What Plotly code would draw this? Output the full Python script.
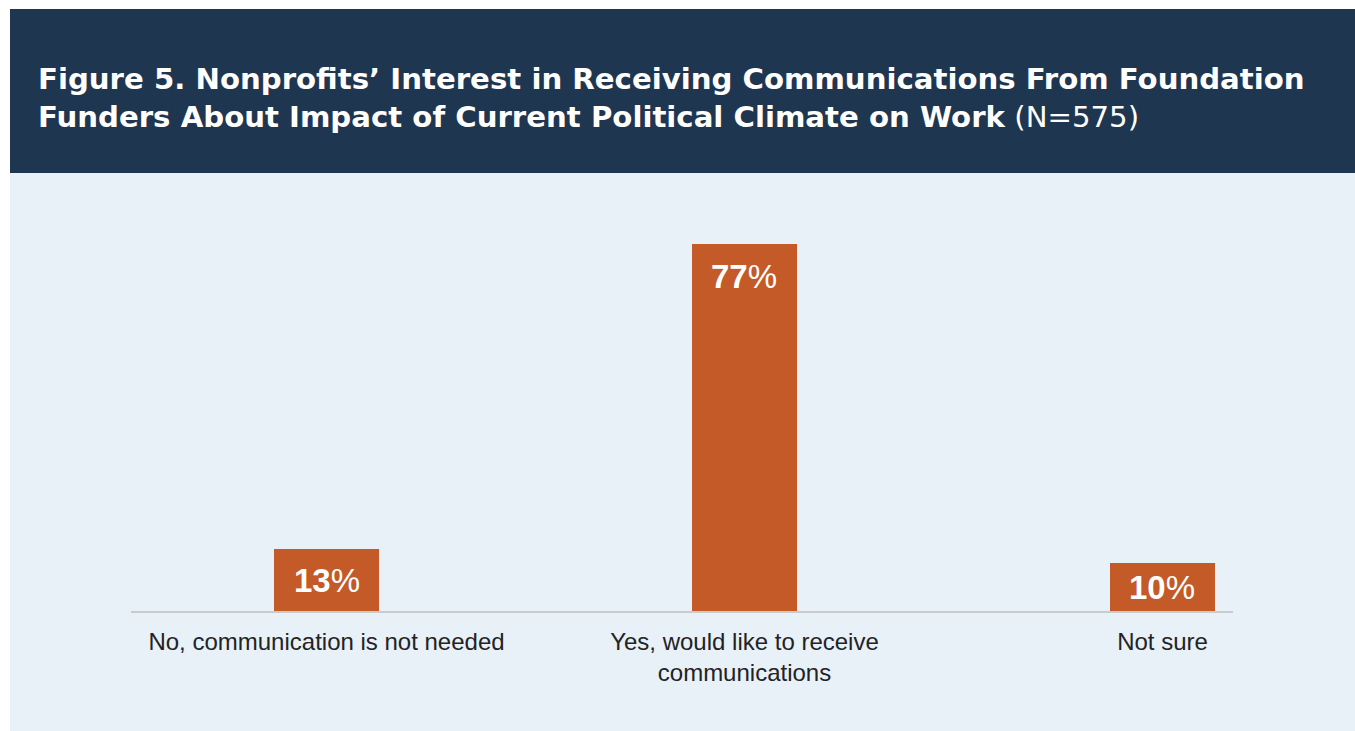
import plotly.graph_objects as go

# ---- data ----
categories = ["No, communication is not needed",
              "Yes, would like to receive<br>communications",
              "Not sure"]
values = [13, 77, 10]
title_main = "Figure 5. Nonprofits’ Interest in Receiving Communications From Foundation<br>Funders About Impact of Current Political Climate on Work"
title_n = "(N=575)"

# ---- style ----
W, H = 1355, 731
NAVY = "#1f3651"
PANEL = "#e8f0f8"
ORANGE = "#c35a27"
AXIS = "#cbcbcb"
TEXT = "#232323"
FONT = "Liberation Sans, Arial, sans-serif"
TITLE_FONT = "DejaVu Sans, Liberation Sans, Arial, sans-serif"

PX_PER_UNIT = 4.76
plot_left, plot_right = 131, 1233
plot_top, plot_bottom = 200, 611
y_top = (plot_bottom - plot_top) / PX_PER_UNIT

fig = go.Figure()
fig.add_trace(go.Bar(
    x=categories, y=values, width=0.251,
    marker=dict(color=ORANGE, line=dict(width=0)),
    hoverinfo="skip",
))

# value labels inside bars
for c, v in zip(categories, values):
    shift = -min(32, v * PX_PER_UNIT / 2)
    fig.add_annotation(x=c, y=v, xref="x", yref="y", text=f"<b>{v}</b>%",
                       showarrow=False, yanchor="middle", yshift=shift,
                       font=dict(family=FONT, size=33, color="white"))

# title
fig.add_annotation(x=36 / W, y=1 - 60 / H, xref="paper", yref="paper",
                   xanchor="left", yanchor="top", align="left", showarrow=False,
                   text=f"<b>{title_main}</b> {title_n}",
                   font=dict(family=TITLE_FONT, size=29.2, color="white"))

# background card
fig.add_shape(type="rect", xref="paper", yref="paper", layer="below",
              x0=10 / W, x1=1, y0=0, y1=1 - 173 / H,
              fillcolor=PANEL, line=dict(width=0))
fig.add_shape(type="rect", xref="paper", yref="paper", layer="below",
              x0=10 / W, x1=1, y0=1 - 173 / H, y1=1 - 9 / H,
              fillcolor=NAVY, line=dict(width=0))

fig.update_layout(
    width=W, height=H,
    margin=dict(l=0, r=0, t=0, b=0),
    paper_bgcolor="white", plot_bgcolor="rgba(0,0,0,0)",
    showlegend=False,
    bargap=0,
    xaxis=dict(domain=[plot_left / W, plot_right / W],
               range=[-0.4677, 2.1687], type="category",
               showline=True, linecolor=AXIS, linewidth=2,
               showgrid=False, zeroline=False, ticks="",
               ticklabelstandoff=8,
               tickfont=dict(family=FONT, size=24, color=TEXT),
               automargin=False, fixedrange=True),
    yaxis=dict(domain=[1 - plot_bottom / H, 1 - plot_top / H],
               range=[0, y_top], visible=False, fixedrange=True),
)

fig.write_html("out.html")
